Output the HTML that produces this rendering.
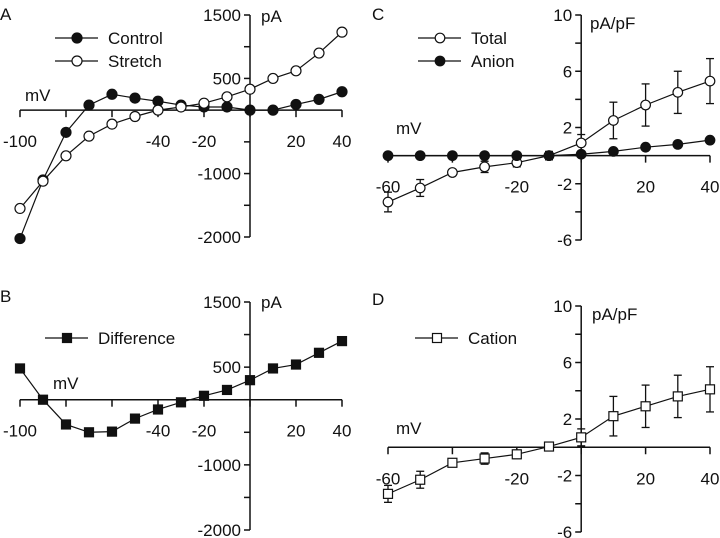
<!DOCTYPE html>
<html><head><meta charset="utf-8"><style>
body{margin:0;background:#fff;}
svg{display:block;font-family:"Liberation Sans",Arial,sans-serif;}
text{fill:#111;}
</style></head><body>
<svg id="fig" width="720" height="538" viewBox="0 0 720 538"></svg>
<script>
// Panel A data (pA)
const voltsA = [-100,-90,-80,-70,-60,-50,-40,-30,-20,-10,0,10,20,30,40];
const controlA = [-2025,-1100,-350,80,250,190,140,80,50,50,0,0,90,170,290];
const stretchA = [-1550,-1120,-720,-410,-220,-100,0,50,110,210,330,500,620,900,1230];
// Panel B data (pA)
const differenceB = [480,0,-380,-500,-490,-290,-150,-40,60,150,300,480,540,720,900];
// Panel C/D data (pA/pF)
const voltsC = [-60,-50,-40,-30,-20,-10,0,10,20,30,40];
const totalC = [-3.3,-2.3,-1.2,-0.8,-0.5,0,0.9,2.5,3.6,4.5,5.3];
const totalErr = [0.7,0.6,0.2,0.4,0.3,0.3,0.6,1.3,1.5,1.5,1.6];
const anionC = [0,0,0,0,0,0,0.1,0.3,0.6,0.8,1.1];
const cationD = [-3.3,-2.3,-1.1,-0.8,-0.5,0.05,0.7,2.2,2.9,3.6,4.1];
const cationErr = [0.6,0.6,0.1,0.4,0.3,0.3,0.6,1.4,1.5,1.5,1.6];
const xTicksPA = [-100,-80,-60,-40,-20,0,20,40];
const xLabelsPA = ['-100','','','-40','-20','','20','40'];
const yTicksPA = [1500,1000,500,0,-500,-1000,-1500,-2000];
const yLabelsPA = ['1500','','500','','','-1000','','-2000'];
const xTicksPF = [-60,-40,-20,0,20,40];
const xLabelsPF = ['-60','','-20','','20','40'];
const yTicksPF = [10,8,6,4,2,0,-2,-4,-6];
const yLabelsPF = ['10','','6','','2','','-2','','-6'];

const NS='http://www.w3.org/2000/svg';
const svg=document.getElementById('fig');
function mk(tag,attrs,parent,txt){const e=document.createElementNS(NS,tag);for(const k in attrs)e.setAttribute(k,attrs[k]);if(txt!==undefined)e.textContent=txt;(parent||svg).appendChild(e);return e;}

function panel(cfg){
  const g=mk('g',{});
  
  
  const sx=v=>cfg.x0+(v-cfg.xmin)*(cfg.x1-cfg.x0)/(cfg.xmax-cfg.xmin);
  const sy=v=>cfg.y0+(cfg.ymax-v)*(cfg.y1-cfg.y0)/(cfg.ymax-cfg.ymin);
  const ax=sx(0), ay=sy(0);
  const pl=mk('text',{x:cfg.lx,y:cfg.ly,'font-size':17},g,cfg.letter);
  
  
  const xa=mk('g',{},g);
  
  
  mk('line',{x1:sx(cfg.xmin),x2:sx(cfg.xmax),y1:ay,y2:ay,stroke:'#111','stroke-width':1.5},xa);
  cfg.xt.forEach((t,i)=>{
    mk('line',{x1:sx(t),x2:sx(t),y1:ay,y2:ay+7,stroke:'#111','stroke-width':1.5},xa);
    if(cfg.xl[i]){const tl=mk('text',{x:sx(t),y:ay+37,'font-size':17,'text-anchor':'middle'},xa,cfg.xl[i]);
      
      }
  });
  const ya=mk('g',{},g);
  
  
  mk('line',{x1:ax,x2:ax,y1:sy(cfg.ymax),y2:sy(cfg.ymin),stroke:'#111','stroke-width':1.5},ya);
  cfg.yt.forEach((t,i)=>{
    mk('line',{x1:ax-6,x2:ax,y1:sy(t),y2:sy(t),stroke:'#111','stroke-width':1.5},ya);
    if(cfg.yl[i]){const tl=mk('text',{x:ax-9,y:sy(t)+6,'font-size':17,'text-anchor':'end'},ya,cfg.yl[i]);
      
      }
  });
  const yu=mk('text',{x:cfg.ux,y:cfg.uy,'font-size':17},g,cfg.unit);
  
  
  const xu=mk('text',{x:cfg.mx,y:cfg.my,'font-size':17},g,'mV');
  
  
  cfg.series.forEach(s=>{
    const sg=mk('g',{},g);
    
    
    const pts=s.vals.map((v,i)=>sx(s.xs[i])+','+sy(v)).join(' ');
    mk('polyline',{points:pts,fill:'none',stroke:'#111','stroke-width':1.2},sg);
    s.vals.forEach((v,i)=>{
      const cx=sx(s.xs[i]),cy=sy(v);
      if(s.err){const e=s.err[i];
        mk('line',{x1:cx,x2:cx,y1:sy(v+e),y2:sy(v-e),stroke:'#111','stroke-width':1.3},sg);
        mk('line',{x1:cx-4,x2:cx+4,y1:sy(v+e),y2:sy(v+e),stroke:'#111','stroke-width':1.3},sg);
        mk('line',{x1:cx-4,x2:cx+4,y1:sy(v-e),y2:sy(v-e),stroke:'#111','stroke-width':1.3},sg);}
      const m=marker(s,cx,cy,sg);
      
      
    });
    const lg=mk('g',{},g);
    
    
    mk('line',{x1:s.lgx,x2:s.lgx+43,y1:s.lgy,y2:s.lgy,stroke:'#111','stroke-width':1.2},lg);
    marker(s,s.lgx+22,s.lgy,lg);
    mk('text',{x:s.lgx+53,y:s.lgy+6,'font-size':17},lg,s.name);
  });
}
function marker(s,cx,cy,p){
  if(s.shape==='sq'){const h=s.size;return mk('rect',{x:cx-h,y:cy-h,width:2*h,height:2*h,fill:s.fill,stroke:'#111','stroke-width':1.2},p);}
  return mk('circle',{cx:cx,cy:cy,r:s.size,fill:s.fill,stroke:'#111','stroke-width':1.2},p);
}

panel({id:'a',letter:'A',lx:0,ly:20,x0:20,x1:342,xmin:-100,xmax:40,y0:15,y1:237,ymin:-2000,ymax:1500,
  xt:xTicksPA,xl:xLabelsPA,yt:yTicksPA,yl:yLabelsPA,unit:'pA',ux:261,uy:22,mx:25,my:101,
  series:[
    {name:'Control',xs:voltsA,vals:controlA,fill:'#111',size:5,lgx:55,lgy:38},
    {name:'Stretch',xs:voltsA,vals:stretchA,fill:'#fff',size:5,lgx:55,lgy:61}]});
panel({id:'b',letter:'B',lx:0,ly:302,x0:20,x1:342,xmin:-100,xmax:40,y0:302,y1:530,ymin:-2000,ymax:1500,
  xt:xTicksPA,xl:xLabelsPA,yt:yTicksPA,yl:yLabelsPA,unit:'pA',ux:261,uy:308,mx:53,my:389,
  series:[{name:'Difference',xs:voltsA,vals:differenceB,fill:'#111',shape:'sq',size:4.5,lgx:45,lgy:338}]});
panel({id:'c',letter:'C',lx:372,ly:20,x0:388,x1:710,xmin:-60,xmax:40,y0:15,y1:240,ymin:-6,ymax:10,
  xt:xTicksPF,xl:xLabelsPF,yt:yTicksPF,yl:yLabelsPF,unit:'pA/pF',ux:590,uy:29,mx:396,my:134,
  series:[
    {name:'Total',xs:voltsC,vals:totalC,err:totalErr,fill:'#fff',size:4.8,lgx:418,lgy:38},
    {name:'Anion',xs:voltsC,vals:anionC,fill:'#111',size:4.8,lgx:418,lgy:61}]});
panel({id:'d',letter:'D',lx:372,ly:305,x0:388,x1:710,xmin:-60,xmax:40,y0:306,y1:532,ymin:-6,ymax:10,
  xt:xTicksPF,xl:xLabelsPF,yt:yTicksPF,yl:yLabelsPF,unit:'pA/pF',ux:592,uy:320,mx:396,my:434,
  series:[{name:'Cation',xs:voltsC,vals:cationD,err:cationErr,fill:'#fff',shape:'sq',size:4.5,lgx:415,lgy:338}]});
</script>
</body></html>
